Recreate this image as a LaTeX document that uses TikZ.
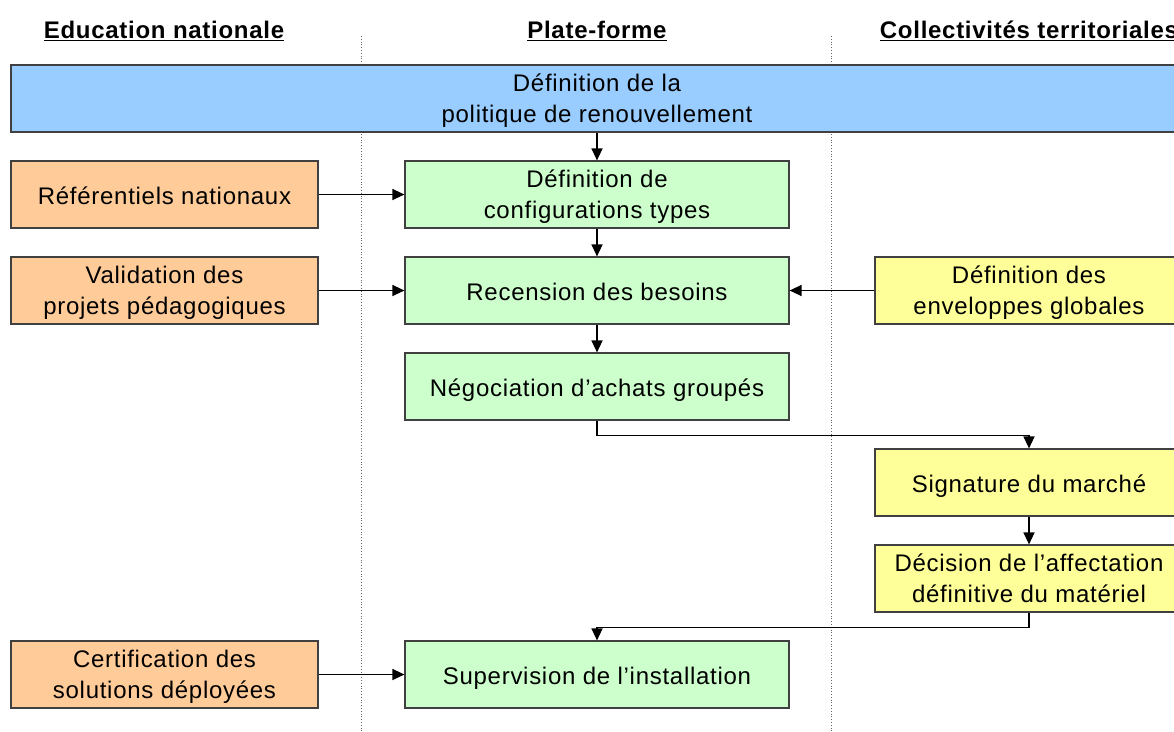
\documentclass[tikz,border=0pt]{standalone}
\usepackage{fontspec}
\setmainfont{Liberation Sans}
\newfontfamily\boxfont[LetterSpace=3.0]{Liberation Sans}
\usetikzlibrary{arrows.meta}
\definecolor{cblue}{HTML}{99CCFF}
\definecolor{corange}{HTML}{FFCC99}
\definecolor{cgreen}{HTML}{CCFFCC}
\definecolor{cyellow}{HTML}{FFFF99}
\tikzset{
  x=1pt, y=-1pt,
  box/.style={draw=black!75, line width=1.2pt, minimum height=67pt, align=center, inner sep=0pt,
    font=\boxfont\fontsize{24}{31}\selectfont, text height=21.5pt, text depth=1pt},
  twoline/.style={text height=48pt, text depth=1pt},
  obox/.style={box, fill=corange, minimum width=307pt},
  gbox/.style={box, fill=cgreen, minimum width=384pt},
  ybox/.style={box, fill=cyellow, minimum width=308pt},
  hdr/.style={font=\boxfont\fontsize{24}{28}\selectfont\bfseries},
  conn/.style={line width=1.4pt, -{Triangle[length=12pt,width=11pt]}},
  lane/.style={black!60, dotted, line width=0.8pt}
}
\begin{document}
\begin{tikzpicture}
\useasboundingbox (0,0) rectangle (1174,731);
\clip (0,0) rectangle (1174,731);
\fill[white] (0,0) rectangle (1174,731);
\draw[lane] (361,36) -- (361,731);
\draw[lane] (831,36) -- (831,731);
\node[hdr] (h1) at (164,31) {\underline{Education nationale}};
\node[hdr] (h2) at (597,31) {\underline{Plate-forme}};
\node[hdr] (h3) at (1029,31) {\underline{Collectivités territoriales}};
\node[box, twoline, fill=cblue, minimum width=1172pt] (pol) at (597,98.5) {Définition de la\\politique de renouvellement};
\node[obox] (o1) at (164.5,194.5) {Référentiels nationaux};
\node[obox, twoline] (o2) at (164.5,290.5) {Validation des\\projets pédagogiques};
\node[obox, twoline] (o3) at (164.5,674.5) {Certification des\\solutions déployées};
\node[gbox, twoline] (g1) at (597,194.5) {Définition de\\configurations types};
\node[gbox] (g2) at (597,290.5) {Recension des besoins};
\node[gbox] (g3) at (597,386.5) {Négociation d’achats groupés};
\node[gbox] (g4) at (597,674.5) {Supervision de l’installation};
\node[ybox, twoline] (y1) at (1029,290.5) {Définition des\\enveloppes globales};
\node[ybox] (y2) at (1029,482.5) {Signature du marché};
\node[ybox, twoline] (y3) at (1029,578.5) {Décision de l’affectation\\définitive du matériel};
\draw[conn] (pol.south -| g1.north) -- (g1.north);
\draw[conn] (o1) -- (g1);
\draw[conn] (g1) -- (g2);
\draw[conn] (o2) -- (g2);
\draw[conn] (y1) -- (g2);
\draw[conn] (g2) -- (g3);
\draw[conn] (g3.south) -- ++(0,15) -| (y2.north);
\draw[conn] (y2) -- (y3);
\draw[conn] (y3.south) -- ++(0,15) -| (g4.north);
\draw[conn] (o3) -- (g4);
\end{tikzpicture}
\end{document}
